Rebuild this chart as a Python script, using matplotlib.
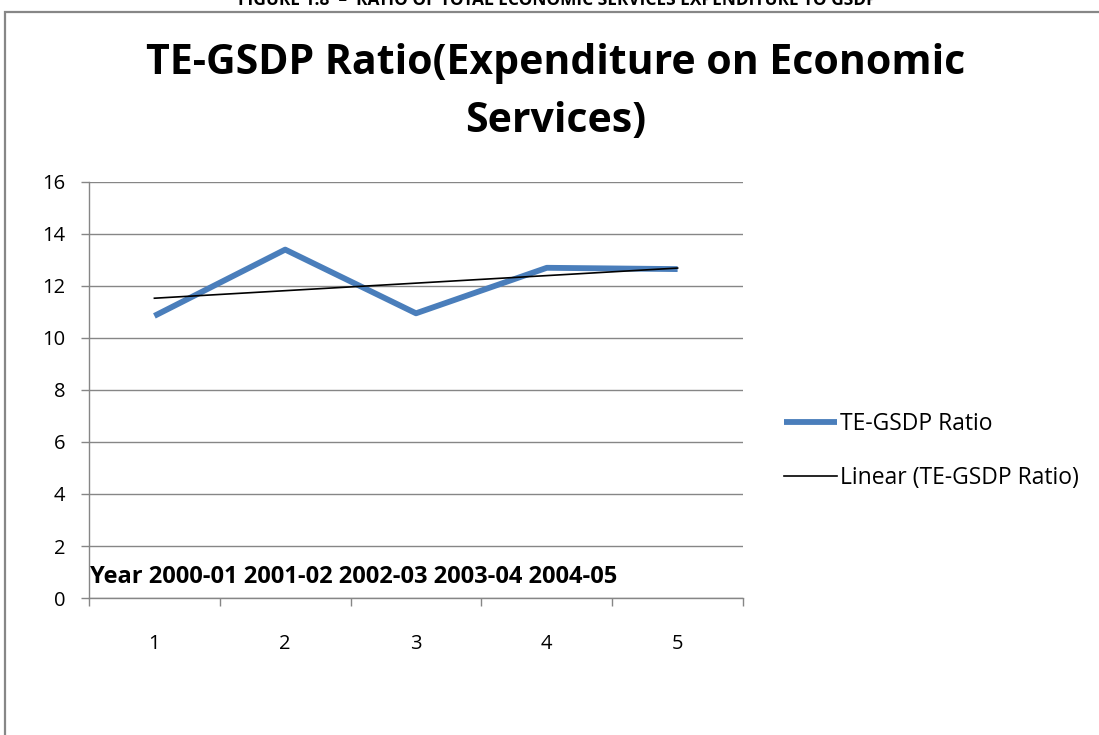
import numpy as np
import matplotlib.pyplot as plt
from matplotlib.patches import Rectangle

# Datos
years = ["2000-01", "2001-02", "2002-03", "2003-04", "2004-05"]
periods = [1, 2, 3, 4, 5]
ratio = [10.85, 13.4, 10.95, 12.7, 12.65]

# Tendencia lineal
slope, intercept = np.polyfit(periods, ratio, 1)
trend = [slope * p + intercept for p in periods]

plt.rcParams['font.family'] = ['Open Sans', 'DejaVu Sans']

W, H = 1099, 735
fig = plt.figure(figsize=(W / 100, H / 100), dpi=100)

# Marco del gráfico
fig.patches.append(Rectangle((5 / W, -0.1), 1.2, 1 - 12 / H + 0.1,
                             transform=fig.transFigure, fill=False,
                             edgecolor="#878787", linewidth=1.6))

fig.text(557 / W, 1 - 5 / H, "FIGURE 1.8  –  RATIO OF TOTAL ECONOMIC SERVICES EXPENDITURE TO GSDP",
         ha="center", va="baseline", fontsize=12.5, fontweight="bold")

fig.text(556 / W, 1 - 64 / H, "TE-GSDP Ratio(Expenditure on Economic",
         ha="center", va="center", fontsize=29.5, fontweight="bold")
fig.text(556 / W, 1 - 122 / H, "Services)",
         ha="center", va="center", fontsize=29.5, fontweight="bold")

ax = fig.add_axes([89 / W, 1 - 598 / H, (743 - 89) / W, (598 - 182) / H])

ax.plot(periods, ratio, color="#4A7EBB", linewidth=4.2, solid_capstyle="butt",
        label="TE-GSDP Ratio")
ax.plot(periods, trend, color="black", linewidth=1.2, label="Linear (TE-GSDP Ratio)")

ax.set_xlim(0.5, 5.5)
ax.set_ylim(0, 16)
ax.set_yticks(range(0, 17, 2))
ax.set_xticks(np.arange(0.5, 5.6, 1))
ax.set_xticklabels([])
ax.set_xticks(periods, minor=True)
ax.set_xticklabels([str(p) for p in periods], minor=True)
ax.tick_params(axis="x", which="minor", length=0, pad=26, labelsize=14.5)
ax.tick_params(axis="x", which="major", length=6, color="#868686", width=1)
ax.tick_params(axis="y", length=6, color="#868686", width=1, labelsize=14.5, pad=11)

ax.grid(axis="y", color="#868686", linewidth=1)
ax.set_axisbelow(True)
for s in ["top", "right"]:
    ax.spines[s].set_visible(False)
for s in ["left", "bottom"]:
    ax.spines[s].set_color("#868686")
    ax.spines[s].set_linewidth(1)

ax.text(0.002, 0.05, "Year " + " ".join(years), transform=ax.transAxes,
        fontsize=17, fontweight="bold", ha="left", va="center")

ax.legend(loc="center left", bbox_to_anchor=(1.031, 0.354), frameon=False,
          fontsize=16.5, handlelength=2.3, handletextpad=0.15, labelspacing=1.3)

fig.savefig("out.png", dpi=100)
